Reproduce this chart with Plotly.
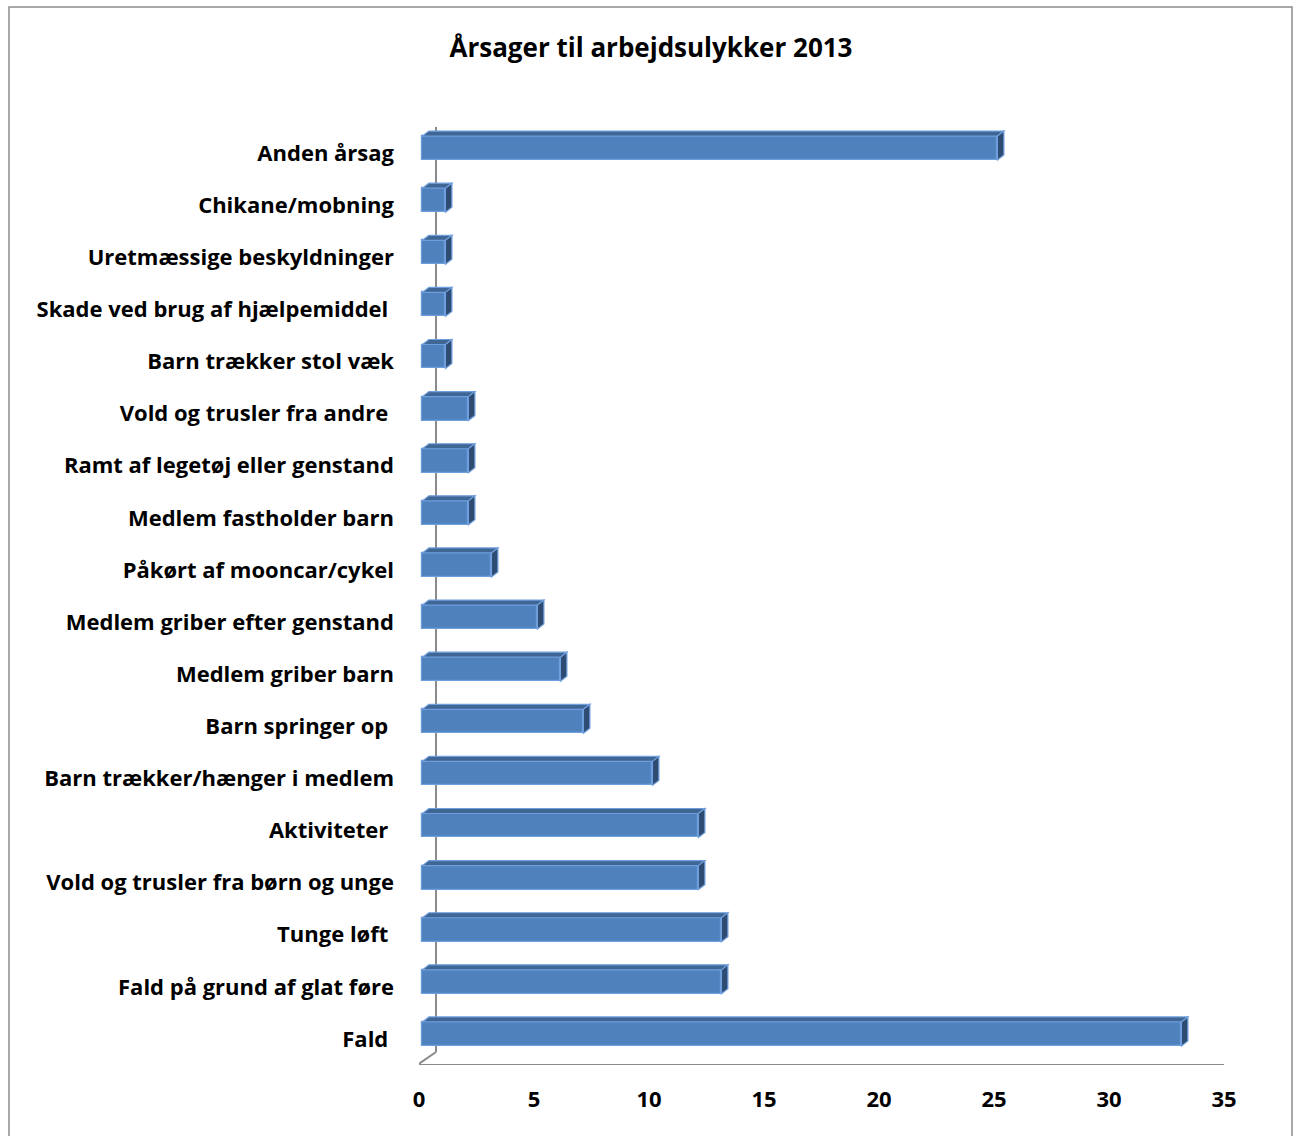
import plotly.graph_objects as go

# Causes of work accidents, listed top to bottom as displayed
categories = [
    "Anden årsag",
    "Chikane/mobning",
    "Uretmæssige beskyldninger",
    "Skade ved brug af hjælpemiddel\u00a0",
    "Barn trækker stol væk",
    "Vold og trusler fra andre\u00a0",
    "Ramt af legetøj eller genstand",
    "Medlem fastholder barn",
    "Påkørt af mooncar/cykel",
    "Medlem griber efter genstand",
    "Medlem griber barn",
    "Barn springer op\u00a0",
    "Barn trækker/hænger i medlem",
    "Aktiviteter\u00a0",
    "Vold og trusler fra børn og unge",
    "Tunge løft\u00a0",
    "Fald på grund af glat føre",
    "Fald\u00a0",
]
counts = [25, 1, 1, 1, 1, 2, 2, 2, 3, 5, 6, 7, 10, 12, 12, 13, 13, 33]
x_ticks = [0, 5, 10, 15, 20, 25, 30, 35]
title_text = "Årsager til arbejdsulykker 2013"

FONT = "Open Sans, sans-serif"
FRONT = "#4F81BD"
TOP = "#3F6695"
SIDE = "#2E4C72"
EDGE = "#6E9EDC"
WALL = "#8A8A8A"

# pseudo-3D geometry in axis units
BAR_W = 0.46        # bar thickness (category units)
BAR_SHIFT = -0.096  # bars sit slightly back (upwards) from the category line
BASE = 0.15         # bars start a little behind the front wall
DX, DY = 0.28, -0.096   # depth of the bar top/side faces
WDX, WDY = 0.74, -0.25  # depth of the side wall
FRONT_X = -0.08         # front edge of the side wall

n = len(categories)
pos = list(range(n))

fig = go.Figure()

fig.add_trace(go.Bar(
    y=pos, x=counts, base=BASE, orientation="h",
    width=BAR_W, offset=BAR_SHIFT - BAR_W / 2,
    marker=dict(color=FRONT, line=dict(color=EDGE, width=1.2)),
    showlegend=False, hoverinfo="x+text", text=categories, textposition="none",
))

wall = dict(color=WALL, width=2)
# back edge of the side wall, hidden behind the bars
shapes = [
    dict(type="line", xref="x", yref="y", x0=WDX, x1=WDX,
         y0=-0.5 + WDY, y1=n - 0.5 + WDY, line=wall, layer="below"),
]

for p, v in zip(pos, counts):
    y_top = p + BAR_SHIFT - BAR_W / 2
    y_bot = p + BAR_SHIFT + BAR_W / 2
    x0, x1 = BASE, BASE + v
    # top face
    shapes.append(dict(
        type="path", xref="x", yref="y",
        path=f"M{x0},{y_top} L{x0 + DX},{y_top + DY} L{x1 + DX},{y_top + DY} L{x1},{y_top} Z",
        fillcolor=TOP, line=dict(color=EDGE, width=1.2), layer="above"))
    # right side face
    shapes.append(dict(
        type="path", xref="x", yref="y",
        path=f"M{x1},{y_top} L{x1 + DX},{y_top + DY} L{x1 + DX},{y_bot + DY} L{x1},{y_bot} Z",
        fillcolor=SIDE, line=dict(color=EDGE, width=1.2), layer="above"))

# front wall edge, wall diagonals and floor line
shapes += [
    dict(type="line", xref="x", yref="y", x0=FRONT_X, x1=FRONT_X, y0=-0.5, y1=n - 0.5, line=wall, layer="above"),
    dict(type="line", xref="x", yref="y", x0=FRONT_X, x1=WDX, y0=-0.5, y1=-0.5 + WDY, line=wall, layer="above"),
    dict(type="line", xref="x", yref="y", x0=FRONT_X, x1=WDX, y0=n - 0.5, y1=n - 0.5 + WDY, line=wall, layer="above"),
    dict(type="line", xref="x", yref="y", x0=FRONT_X, x1=35.1, y0=n - 0.5, y1=n - 0.5, line=wall, layer="above"),
    # outer chart frame
    dict(type="rect", xref="paper", yref="paper",
         x0=-410 / 805, x1=873 / 805, y0=-80 / 938, y1=1 + 120 / 938,
         line=dict(color="#8C8C8C", width=1.5), layer="above"),
]

fig.update_layout(
    width=1294, height=1136,
    margin=dict(l=419, r=70, t=127, b=71),
    paper_bgcolor="white", plot_bgcolor="white",
    font=dict(family=FONT, size=22, color="black"),
    title=dict(text=f"<b>{title_text}</b>", x=651 / 1294, xanchor="center",
               y=1 - 48 / 1136, yanchor="middle",
               font=dict(family=FONT, size=26, color="black")),
    shapes=shapes,
    bargap=0,
    xaxis=dict(range=[0, 35], tickvals=x_ticks, ticktext=[f"<b>{t}</b>" for t in x_ticks],
               showgrid=False, zeroline=False, showline=False, ticks="",
               ticklabelstandoff=19, fixedrange=True),
    yaxis=dict(range=[n - 0.5, -0.5], tickvals=pos,
               ticktext=[f"<b>{c}</b>" for c in categories],
               showgrid=False, zeroline=False, showline=False, ticks="",
               ticklabelstandoff=24, fixedrange=True),
)

fig.write_html("out.html")
